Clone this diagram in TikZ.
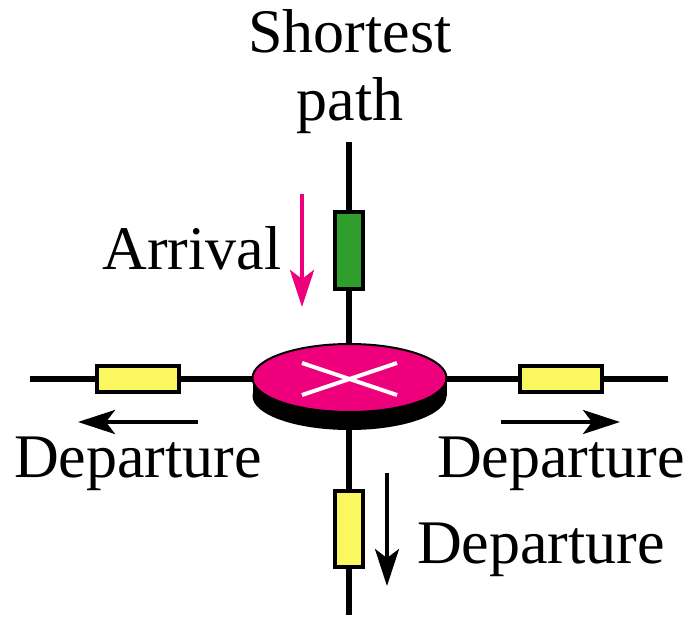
\documentclass[tikz,border=0pt]{standalone}
\usepackage{fontspec}
\setmainfont{Liberation Serif}
\usetikzlibrary{arrows.meta, shapes.geometric}
\definecolor{routerpink}{RGB}{238,0,125}
\definecolor{linkyellow}{RGB}{250,247,95}
\definecolor{linkgreen}{RGB}{48,158,44}
\tikzset{
  x=1pt, y=-1pt,
  lbl/.style={font=\fontsize{62}{68}\selectfont, inner sep=0pt, align=center},
  buffer/.style={draw, line width=4pt, fill=linkyellow, inner sep=0pt},
  buffergreen/.style={buffer, fill=linkgreen},
  flow/.style={line width=3.6pt, -{Stealth[length=37pt,width=24pt,inset=9pt]}},
  flowpink/.style={line width=4.6pt, routerpink, -{Stealth[length=37pt,width=24pt,inset=9pt]}}
}
\begin{document}
\begin{tikzpicture}
\useasboundingbox (0,0) rectangle (688,616);
\coordinate (top) at (349,142);
\coordinate (bottom) at (349,615);
\coordinate (left) at (30,379);
\coordinate (right) at (668,379);
\coordinate (hub) at (349.5,378);
\draw[line width=5.4pt] (top) -- (bottom);
\draw[line width=5.4pt] (left) -- (right);
% router
\node (base) [ellipse, fill=black, minimum width=194pt, minimum height=68pt, inner sep=0pt] at (349.5,396) {};
\fill (252.5,378) rectangle (446.5,396);
\node (disc) [ellipse, draw, line width=2pt, fill=routerpink, minimum width=194pt, minimum height=68pt, inner sep=0pt] at (hub) {};
\coordinate (x1) at (302,363);
\coordinate (x2) at (397,395);
\coordinate (x3) at (302,395);
\coordinate (x4) at (397,363);
\draw[white, line width=4pt] (x1) -- (x2);
\draw[white, line width=4pt] (x3) -- (x4);
% buffers
\node (bufN) [buffergreen, minimum width=28pt, minimum height=77pt] at (348.5,250.5) {};
\node (bufW) [buffer, minimum width=82pt, minimum height=26pt] at (138,379) {};
\node (bufE) [buffer, minimum width=82pt, minimum height=26pt] at (561,379) {};
\node (bufS) [buffer, minimum width=28pt, minimum height=76pt] at (349,529) {};
% labels
\node (title) [lbl] at (350,72) {Shortest\\path};
\node (arrival) [lbl] at (192,248) {Arrival};
\node (depW) [lbl] at (138,464) {Departure};
\node (depE) [lbl] at (561,464) {Departure};
\node (depS) [lbl] at (541,550) {Departure};
% arrows
\coordinate (a1) at (302,194);
\coordinate (a2) at (302,307);
\draw[flowpink] (a1) -- (a2);
\coordinate (b1) at (198,422);
\coordinate (b2) at (78,422);
\draw[flow] (b1) -- (b2);
\coordinate (c1) at (501,422);
\coordinate (c2) at (620,422);
\draw[flow] (c1) -- (c2);
\coordinate (d1) at (387,473);
\coordinate (d2) at (387,586);
\draw[flow] (d1) -- (d2);
\end{tikzpicture}
\end{document}
